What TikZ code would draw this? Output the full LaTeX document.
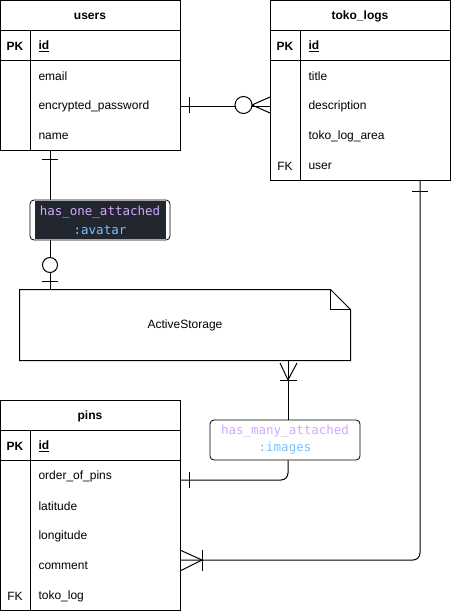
\documentclass[tikz,border=0pt]{standalone}
\usepackage{fontspec}
\setmainfont{Liberation Sans}
\newfontfamily\codefont{DejaVu Sans Mono}
\usetikzlibrary{calc}
\definecolor{codepurple}{HTML}{D2A8FF}
\definecolor{codeblue}{HTML}{79C0FF}
\definecolor{codebg}{HTML}{22262E}
\begin{document}
\begin{tikzpicture}[x=1pt,y=-1pt,line width=1pt,
  font=\fontsize{12}{14}\selectfont,
  tblbox/.style={draw,minimum width=180pt,inner sep=0pt,anchor=north west},
  hdr/.style={font=\fontsize{12}{14}\selectfont\bfseries},
  keytxt/.style={inner sep=0pt,yshift=-1pt},
  rowtxt/.style={anchor=west,inner sep=0pt,yshift=-1pt},
  codebox/.style={draw,line width=0.8pt,rounded corners=4pt,inner sep=0pt,align=center,
    font=\codefont\fontsize{12.5}{17}\selectfont},
]
\useasboundingbox (0,0) rectangle (451,611);

% ---------------- users ----------------
\node[tblbox,minimum height=150pt] (users) at (0,0) {};
\draw (0,30) -- (180,30) (0,60) -- (180,60) (30,30) -- (30,150);
\node[hdr,yshift=-1pt] (u-h) at (90,15) {users};
\node[hdr,keytxt] (u-pk) at (15,45) {PK};
\node[hdr,rowtxt] (u-id) at (38,45) {\underline{id}};
\node[rowtxt] (u-email) at (38,75) {email};
\node[rowtxt] (u-pw) at (38,105) {encrypted\_password};
\node[rowtxt] (u-name) at (38,135) {name};

% ---------------- toko_logs ----------------
\node[tblbox,minimum height=180pt] (toko) at (270,0) {};
\draw (270,30) -- (450,30) (270,60) -- (450,60) (300,30) -- (300,180);
\node[hdr,yshift=-1pt] (t-h) at (360,15) {toko\_logs};
\node[hdr,keytxt] (t-pk) at (285,45) {PK};
\node[hdr,rowtxt] (t-id) at (308,45) {\underline{id}};
\node[rowtxt] (t-title) at (308,75) {title};
\node[rowtxt] (t-desc) at (308,105) {description};
\node[rowtxt] (t-area) at (308,135) {toko\_log\_area};
\node[keytxt] (t-fk) at (285,165) {FK};
\node[rowtxt] (t-user) at (308,165) {user};

% ---------------- pins ----------------
\node[tblbox,minimum height=210pt] (pins) at (0,400) {};
\draw (0,430) -- (180,430) (0,460) -- (180,460) (30,430) -- (30,610);
\node[hdr,yshift=-1pt] (p-h) at (90,415) {pins};
\node[hdr,keytxt] (p-pk) at (15,445) {PK};
\node[hdr,rowtxt] (p-id) at (38,445) {\underline{id}};
\node[rowtxt] (p-ord) at (38,475) {order\_of\_pins};
\node[rowtxt] (p-lat) at (38,505) {latitude};
\node[rowtxt] (p-lon) at (38,535) {longitude};
\node[rowtxt] (p-com) at (38,565) {comment};
\node[keytxt] (p-fk) at (15,595) {FK};
\node[rowtxt] (p-tl) at (38,595) {toko\_log};

% ---------------- ActiveStorage (note) ----------------
\node[minimum width=330pt,minimum height=70pt,inner sep=0pt] (as) at (185,325) {ActiveStorage};
\draw[line join=miter] (as.north west) -- ($(as.north east)+(-20,0)$) -- ($(as.north east)+(0,20)$)
  -- (as.south east) -- (as.south west) -- cycle;
\draw ($(as.north east)+(-20,0)$) -- ($(as.north east)+(-20,20)$) -- ($(as.north east)+(0,20)$);

% ---------------- named connector ends ----------------
\coordinate (uS) at (50,150);
\coordinate (asT) at (50,290);
\coordinate (asB) at (288,360);
\coordinate (tB) at (420,180);
\coordinate (pOrd) at (180,480);
\coordinate (pCom) at (180,560);

% users -- toko_logs
\draw (users.east |- u-pw) -- (toko.west |- t-desc);
\draw (189,97) -- (189,113);
\draw[fill=white] (243.5,105) circle[radius=8.5pt];
\draw (252,105) -- (270,97) (252,105) -- (270,113);

% users -- ActiveStorage (has_one_attached)
\draw (uS) -- (asT);
\draw (42,159) -- (58,159);
\draw[fill=white] (50,265) circle[radius=7.5pt];
\draw (42,281) -- (58,281);
\node[codebox,minimum width=140pt,minimum height=40pt,fill=white] (lab1) at (100,220) {};
\fill[codebg] (35,201) rectangle (166,239);
\node[inner sep=0pt,align=center,font=\codefont\fontsize{12.5}{19}\selectfont] (lab1t) at (lab1)
  {\textcolor{codepurple}{has\_one\_attached}\\\textcolor{codeblue}{:avatar}};

% ActiveStorage -- pins (has_many_attached)
\node[codebox,minimum width=150pt,minimum height=40pt,fill=white] (lab2) at (285,440)
  {\textcolor{codepurple}{has\_many\_attached}\\\textcolor{codeblue}{:images}};
\draw (asB) -- (lab2.north -| asB);
\draw (280,363) -- (288,380) -- (297,363);
\draw (280,380) -- (297,380);
\draw[rounded corners=7pt] (lab2.south -| asB) |- (pOrd);
\draw (189,472) -- (189,488);

% toko_logs -- pins
\draw[rounded corners=7pt] (tB) |- (pCom);
\draw (412,191) -- (428,191);
\draw (180,550) -- (202,560) -- (180,571);
\draw (202,550) -- (202,571);

\end{tikzpicture}
\end{document}
